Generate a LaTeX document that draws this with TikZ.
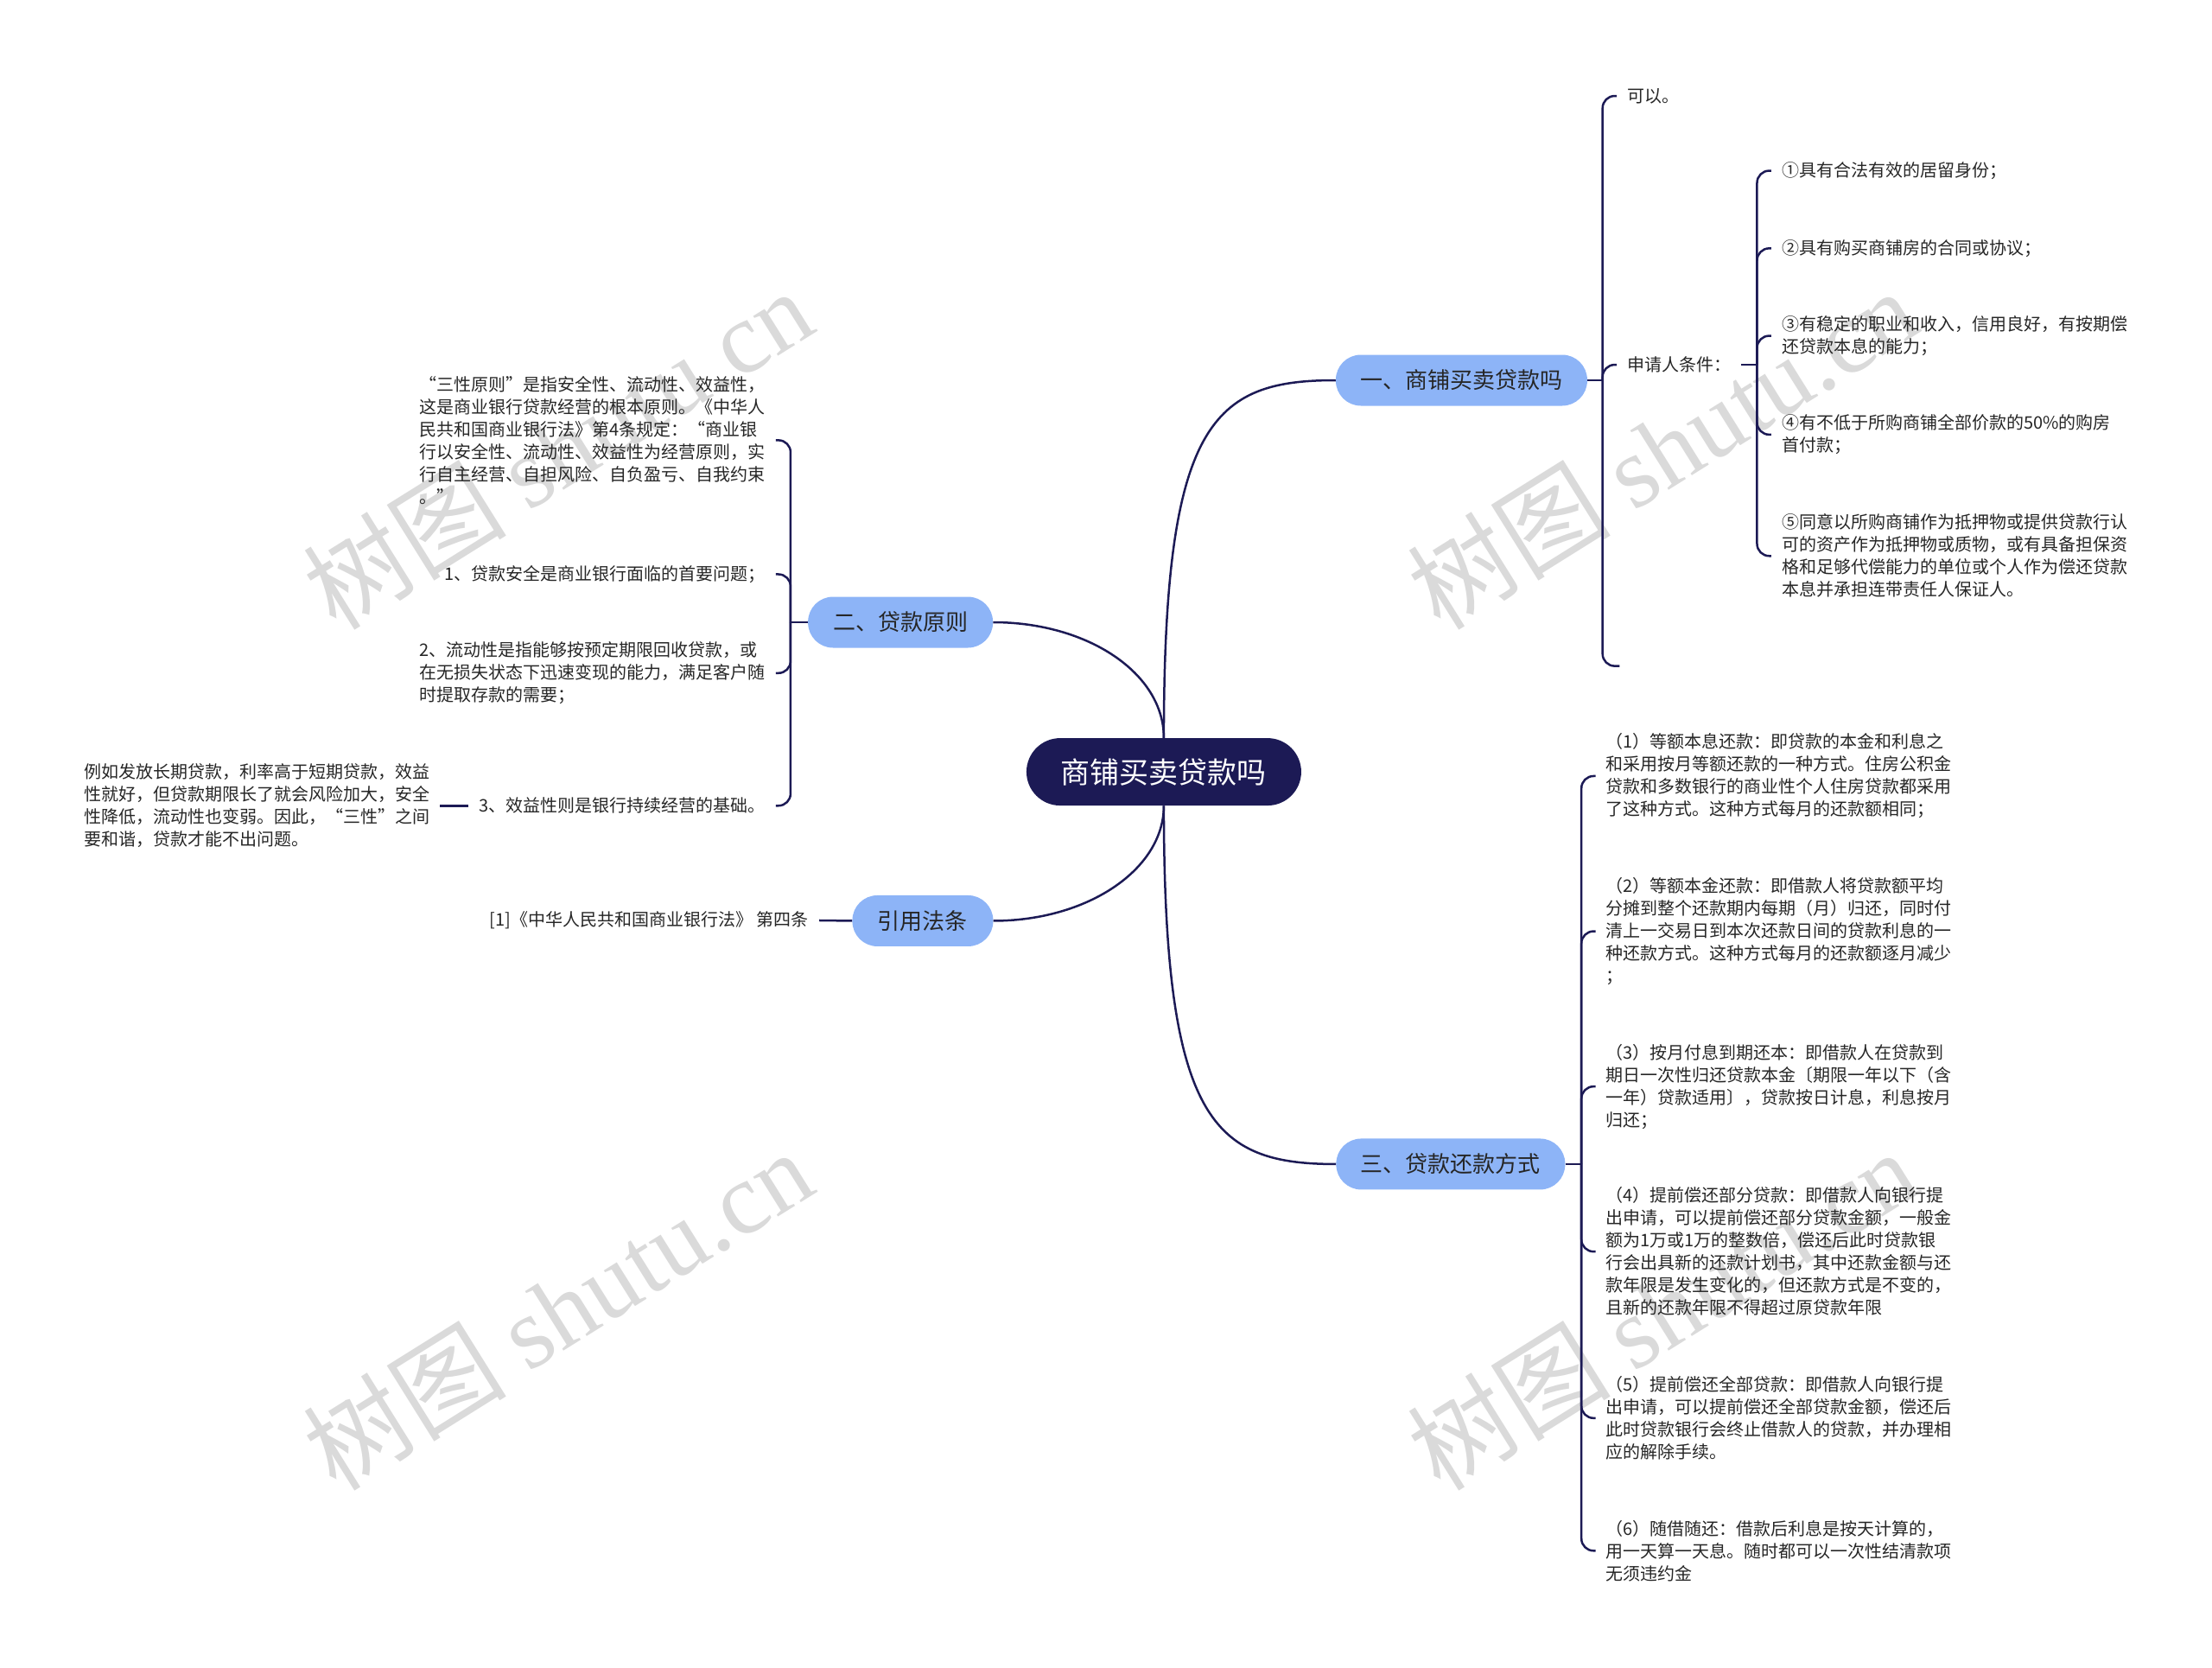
\documentclass[tikz,border=0pt]{standalone}
\usepackage{fontspec}
\newfontfamily\cjk{Noto Sans CJK SC}
\newfontfamily\wmlatin{Liberation Serif}

\definecolor{navy}{HTML}{1C1A55}
\definecolor{topicblue}{HTML}{8DB4F7}
\definecolor{wmgray}{HTML}{DADADA}

\tikzset{
    rootnode/.style={fill=navy, text=white, font=\cjk\fontsize{34pt}{40pt}\selectfont,
        minimum width=318pt, minimum height=78pt, rounded corners=39pt, inner sep=0pt},
    branch/.style={fill=topicblue, text=black!85, font=\cjk\fontsize{26pt}{32pt}\selectfont,
        minimum height=59pt, rounded corners=29pt, inner sep=0pt},
    leaf/.style={text=black!85, font=\cjk\fontsize{20pt}{26pt}\selectfont, align=left,
        inner xsep=12pt, inner ysep=2pt},
    link/.style={draw=navy, line width=2.5pt},
    brace/.style={link, rounded corners=14pt},
    wmark/.style={text=wmgray, rotate=32, font=\fontsize{118pt}{118pt}\selectfont}
}

\begin{document}
\begin{tikzpicture}[x=1.6327pt, y=-1.6327pt]
    \useasboundingbox (0,0) rectangle (1568,1182);

    % watermarks
    \node[wmark] (wm1) at (395,318) {\cjk 树图\ \wmlatin shutu.cn};
    \node[wmark] (wm2) at (1178,318) {\cjk 树图\ \wmlatin shutu.cn};
    \node[wmark] (wm3) at (395,928) {\cjk 树图\ \wmlatin shutu.cn};
    \node[wmark] (wm4) at (1178,928) {\cjk 树图\ \wmlatin shutu.cn};

    % main topics
    \node[rootnode] (root) at (825,547) {商铺买卖贷款吗};
    \node[branch, minimum width=291pt] (b1) at (1036,269.5) {一、商铺买卖贷款吗};
    \node[branch, minimum width=214pt] (b2) at (638.3,441) {二、贷款原则};
    \node[branch, minimum width=163pt] (b3) at (654.1,652.6) {引用法条};
    \node[branch, minimum width=265pt] (b4) at (1028.3,825) {三、贷款还款方式};

    \draw[link] (root.north) .. controls +(0,-224) and +(-87,0) .. (b1.west);
    \draw[link] (root.north) .. controls +(0,-46) and +(67,0) .. (b2.east);
    \draw[link] (root.south) .. controls +(0,45) and +(67,0) .. (b3.east);
    \draw[link] (root.south) .. controls +(0,224) and +(-87,0) .. (b4.west);

    % branch 1
    \coordinate (j1) at (1136,269.5);
    \node[leaf, anchor=west] (n11) at (1146,68) {可以。};
    \node[leaf, anchor=west] (n12) at (1146,258.5) {申请人条件：};
    \coordinate (n13) at (1148,472);
    \draw[link] (b1.east) -- (j1);
    \draw[brace] (j1) |- (n11.west);
    \draw[brace] (j1) |- (n12.west);
    \draw[brace] (j1) |- (n13);

    \coordinate (j2) at (1245.5,258.5);
    \node[leaf, anchor=west] (n121) at (1255.6,121) {①具有合法有效的居留身份；};
    \node[leaf, anchor=west] (n122) at (1255.6,176) {②具有购买商铺房的合同或协议；};
    \node[leaf, anchor=west] (n123) at (1255.6,238) {③有稳定的职业和收入，信用良好，有按期偿\\还贷款本息的能力；};
    \node[leaf, anchor=west] (n124) at (1255.6,308) {④有不低于所购商铺全部价款的50\%的购房\\首付款；};
    \node[leaf, anchor=west] (n125) at (1255.6,394) {⑤同意以所购商铺作为抵押物或提供贷款行认\\可的资产作为抵押物或质物，或有具备担保资\\格和足够代偿能力的单位或个人作为偿还贷款\\本息并承担连带责任人保证人。};
    \draw[link] (n12.east) -- (j2);
    \foreach \n in {n121,n122,n123,n124,n125}
        \draw[brace] (j2) |- (\n.west);

    % branch 2
    \coordinate (j3) at (560.4,441);
    \node[leaf, anchor=east] (n21) at (550,312) {“三性原则”是指安全性、流动性、效益性，\\这是商业银行贷款经营的根本原则。《中华人\\民共和国商业银行法》第4条规定：“商业银\\行以安全性、流动性、效益性为经营原则，实\\行自主经营、自担风险、自负盈亏、自我约束\\。”};
    \node[leaf, anchor=east] (n22) at (550,407) {1、贷款安全是商业银行面临的首要问题；};
    \node[leaf, anchor=east] (n23) at (550,477) {2、流动性是指能够按预定期限回收贷款，或\\在无损失状态下迅速变现的能力，满足客户随\\时提取存款的需要；};
    \node[leaf, anchor=east] (n24) at (550,571) {3、效益性则是银行持续经营的基础。};
    \node[leaf, anchor=east] (n241) at (312,571) {例如发放长期贷款，利率高于短期贷款，效益\\性就好，但贷款期限长了就会风险加大，安全\\性降低，流动性也变弱。因此，“三性”之间\\要和谐，贷款才能不出问题。};
    \draw[link] (b2.west) -- (j3);
    \foreach \n in {n21,n22,n23,n24}
        \draw[brace] (j3) |- (\n.east);
    \draw[link] (n24.west) -- (n241.east);

    % cited law
    \node[leaf, anchor=east] (n31) at (580.7,652.3) {[1]《中华人民共和国商业银行法》 第四条};
    \draw[link] (b3.west) -- (n31.east);

    % branch 3
    \coordinate (j4) at (1121,825);
    \node[leaf, anchor=west] (n41) at (1131,550) {（1）等额本息还款：即贷款的本金和利息之\\和采用按月等额还款的一种方式。住房公积金\\贷款和多数银行的商业性个人住房贷款都采用\\了这种方式。这种方式每月的还款额相同；};
    \node[leaf, anchor=west] (n42) at (1131,660) {（2）等额本金还款：即借款人将贷款额平均\\分摊到整个还款期内每期（月）归还，同时付\\清上一交易日到本次还款日间的贷款利息的一\\种还款方式。这种方式每月的还款额逐月减少\\；};
    \node[leaf, anchor=west] (n43) at (1131,770) {（3）按月付息到期还本：即借款人在贷款到\\期日一次性归还贷款本金〔期限一年以下（含\\一年）贷款适用〕，贷款按日计息，利息按月\\归还；};
    \node[leaf, anchor=west] (n44) at (1131,887) {（4）提前偿还部分贷款：即借款人向银行提\\出申请，可以提前偿还部分贷款金额，一般金\\额为1万或1万的整数倍，偿还后此时贷款银\\行会出具新的还款计划书，其中还款金额与还\\款年限是发生变化的，但还款方式是不变的，\\且新的还款年限不得超过原贷款年限};
    \node[leaf, anchor=west] (n45) at (1131,1005) {（5）提前偿还全部贷款：即借款人向银行提\\出申请，可以提前偿还全部贷款金额，偿还后\\此时贷款银行会终止借款人的贷款，并办理相\\应的解除手续。};
    \node[leaf, anchor=west] (n46) at (1131,1099) {（6）随借随还：借款后利息是按天计算的，\\用一天算一天息。随时都可以一次性结清款项\\无须违约金};
    \draw[link] (b4.east) -- (j4);
    \foreach \n in {n41,n42,n43,n44,n45,n46}
        \draw[brace] (j4) |- (\n.west);
\end{tikzpicture}
\end{document}
